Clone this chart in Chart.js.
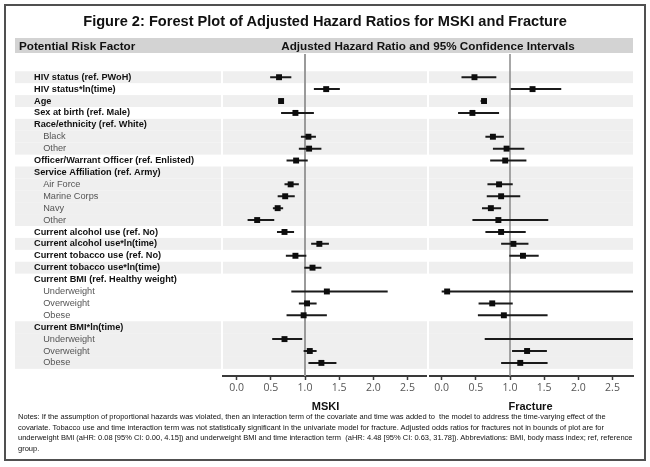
<!DOCTYPE html>
<html>
<head>
<meta charset="utf-8">
<script src="https://cdn.jsdelivr.net/npm/chart.js@4.4.1/dist/chart.umd.min.js"></script>
<style>
  html, body { margin: 0; padding: 0; background: #fff; }
  body { width: 650px; height: 467px; position: relative; overflow: hidden; }
  #frame { position: absolute; left: 4px; top: 4px; width: 642px; height: 457px; box-sizing: border-box; border: 2px solid #505050; pointer-events: none; }
  #title { position: absolute; left: 0; width: 650px; top: 13px; text-align: center; font: bold 14.6px "Liberation Sans", Arial, sans-serif; color: #111; }
  #hdr { position: absolute; left: 15px; top: 38px; width: 618px; height: 15px; background: #d3d3d3; }
  #hdr .l { position: absolute; left: 4px; top: 1px; font: bold 11.7px "Liberation Sans", Arial, sans-serif; color: #111; }
  #hdr .r { position: absolute; left: 255px; width: 316px; top: 1px; text-align: center; font: bold 11.7px "Liberation Sans", Arial, sans-serif; color: #111; white-space: nowrap; }
  #notes { position: absolute; left: 18px; top: 412px; width: 620px; font: 7.5px "Liberation Sans", Arial, sans-serif; line-height: 10.5px; color: #111; white-space: nowrap; }
  canvas { position: absolute; left: 0; top: 0; }
</style>
</head>
<body>
<canvas id="c" width="650" height="467"></canvas>
<div id="title">Figure 2: Forest Plot of Adjusted Hazard Ratios for MSKI and Fracture</div>
<div id="hdr"><span class="l">Potential Risk Factor</span><span class="r">Adjusted Hazard Ratio and 95% Confidence Intervals</span></div>
<div id="notes">Notes: If the assumption of proportional hazards was violated, then an interaction term of the covariate and time was added to&nbsp; the model to address the time-varying effect of the<br>covariate. Tobacco use and time interaction term was not statistically significant in the univariate model for fracture. Adjusted odds ratios for fractures not in bounds of plot are for<br>underweight BMI (aHR: 0.08 [95% CI: 0.00, 4.15]) and underweight BMI and time interaction term&nbsp; (aHR: 4.48 [95% CI: 0.63, 31.78]). Abbreviations: BMI, body mass index; ref, reference<br>group.</div>
<div id="frame"></div>
<script>
// ---- data ----
const factors = [
  "HIV status (ref. PWoH)", "HIV status*ln(time)", "Age", "Sex at birth (ref. Male)",
  "Race/ethnicity (ref. White)", "Black", "Other",
  "Officer/Warrant Officer (ref. Enlisted)",
  "Service Affiliation (ref. Army)", "Air Force", "Marine Corps", "Navy", "Other",
  "Current alcohol use (ref. No)", "Current alcohol use*ln(time)",
  "Current tobacco use (ref. No)", "Current tobacco use*ln(time)",
  "Current BMI (ref. Healthy weight)", "Underweight", "Overweight", "Obese",
  "Current BMI*ln(time)", "Underweight", "Overweight", "Obese"
];
const isSubLevel = [0,0,0,0, 0,1,1, 0, 0,1,1,1,1, 0,0, 0,0, 0,1,1,1, 0,1,1,1];
const shadedRows = [0,2,4,5,6,8,9,10,11,12,14,16,21,22,23,24];

const mskiHR = [0.62,1.31,0.65,0.86, null,1.05,1.06, 0.87, null,0.79,0.71,0.60,0.30, 0.70,1.21, 0.86,1.11, null,1.32,1.03,0.98, null,0.70,1.07,1.24];
const mskiLo = [0.49,1.13,0.63,0.65, null,0.94,0.91, 0.73, null,0.70,0.60,0.53,0.16, 0.59,1.09, 0.72,0.99, null,0.80,0.91,0.73, null,0.52,0.98,1.05];
const mskiHi = [0.80,1.51,0.67,1.13, null,1.16,1.24, 1.04, null,0.91,0.85,0.68,0.55, 0.84,1.35, 1.02,1.24, null,2.21,1.17,1.32, null,0.96,1.17,1.46];

const fracHR = [0.48,1.33,0.62,0.45, null,0.75,0.95, 0.93, null,0.84,0.87,0.72,0.83, 0.87,1.05, 1.19,null, null,0.08,0.74,0.91, null,4.48,1.25,1.15];
const fracLo = [0.29,1.01,0.57,0.24, null,0.64,0.75, 0.71, null,0.67,0.66,0.59,0.45, 0.64,0.87, 0.99,null, null,0.00,0.54,0.53, null,0.63,1.03,0.87];
const fracHi = [0.80,1.75,0.66,0.84, null,0.91,1.21, 1.24, null,1.04,1.15,0.87,1.56, 1.23,1.27, 1.42,null, null,4.15,1.04,1.55, null,31.78,1.54,1.55];

const xTicks = [0, 0.5, 1, 1.5, 2, 2.5];
const refValue = 1;
const panelTitles = ["MSKI", "Fracture"];

// ---- helpers ----
const Y_MIN = -1.95, Y_MAX = 25.1;
const X_MIN = -0.2, X_MAX = 2.8;

function pointData(hr) {
  const out = [];
  hr.forEach((v, i) => { if (v !== null) out.push({x: v, y: i}); });
  return out;
}
function ciData(lo, hi) {
  const out = [];
  lo.forEach((v, i) => {
    if (v !== null && hi[i] !== null) {
      out.push({x: v, y: i}, {x: hi[i], y: i}, {x: null, y: null});
    }
  });
  return out;
}
const refData = [{x: refValue, y: Y_MIN}, {x: refValue, y: Y_MAX}];
const isSub = ctx => !!(ctx && ctx.tick && isSubLevel[ctx.tick.value]);

const bandPlugin = {
  id: 'bands',
  beforeDraw(chart) {
    const ctx = chart.ctx;
    const y = chart.scales.y, x1 = chart.scales.x, x2 = chart.scales.x2;
    ctx.save();
    ctx.fillStyle = '#efefef';
    shadedRows.forEach(r => {
      const top = y.getPixelForValue(r - 0.5);
      const bot = y.getPixelForValue(r + 0.5);
      const h = bot - top;
      ctx.fillRect(15, top, x1.left - 2 - 15, h);
      ctx.fillRect(x1.left, top, x1.right - x1.left - 1, h);
      ctx.fillRect(x2.left + 1, top, x2.right - x2.left - 1, h);
    });
    ctx.restore();
  },
  afterDraw(chart) {
    const ctx = chart.ctx;
    const x1 = chart.scales.x;
    ctx.save();
    ctx.fillStyle = '#fff';
    ctx.fillRect(x1.right - 1, chart.chartArea.top, 2, chart.chartArea.bottom - chart.chartArea.top + 6);
    ctx.restore();
  }
};

function xScale(title) {
  return {
    type: 'linear', position: 'bottom', stack: 'panels', stackWeight: 1,
    min: X_MIN, max: X_MAX,
    border: {display: true, color: '#3a3a3a', width: 2},
    grid: {display: true, drawOnChartArea: false, drawTicks: true, tickLength: 4, tickWidth: 1.5, tickColor: '#3a3a3a'},
    afterBuildTicks: s => { s.ticks = xTicks.map(v => ({value: v})); },
    ticks: {
      callback: v => Number(v).toFixed(1),
      color: '#555', padding: 2,
      font: {family: '"Open Sans", "DejaVu Sans", sans-serif', size: 10.5}
    },
    title: {display: true, text: title, color: '#111', padding: {top: 5, bottom: 0},
      font: {family: '"Liberation Sans", Arial, sans-serif', size: 11, weight: 'bold'}},
    afterFit: s => { s.height = 38; }
  };
}

new Chart(document.getElementById('c'), {
  type: 'scatter',
  data: {
    datasets: [
      {label: 'ref1', data: refData, xAxisID: 'x', showLine: true, borderColor: '#9a9a9a', borderWidth: 2, pointRadius: 0, order: 5},
      {label: 'ref2', data: refData, xAxisID: 'x2', showLine: true, borderColor: '#8a8a8a', borderWidth: 1.5, pointRadius: 0, order: 5},
      {label: 'mski ci', data: ciData(mskiLo, mskiHi), xAxisID: 'x', showLine: true, spanGaps: false, borderColor: '#1a1a1a', borderWidth: 2, pointRadius: 0, order: 3},
      {label: 'frac ci', data: ciData(fracLo, fracHi), xAxisID: 'x2', showLine: true, spanGaps: false, borderColor: '#1a1a1a', borderWidth: 2, pointRadius: 0, order: 3},
      {label: 'mski hr', data: pointData(mskiHR), xAxisID: 'x', pointStyle: 'rect', pointRadius: 4.2, backgroundColor: '#0d0d0d', borderWidth: 0, order: 1},
      {label: 'frac hr', data: pointData(fracHR), xAxisID: 'x2', pointStyle: 'rect', pointRadius: 4.2, backgroundColor: '#0d0d0d', borderWidth: 0, order: 1}
    ]
  },
  plugins: [bandPlugin],
  options: {
    responsive: false,
    animation: false,
    devicePixelRatio: 1,
    layout: {padding: {left: 34, right: 17, top: 54, bottom: 53}},
    plugins: {legend: {display: false}, tooltip: {enabled: false}, title: {display: false}},
    scales: {
      x: xScale(panelTitles[0]),
      x2: xScale(panelTitles[1]),
      y: {
        type: 'linear', position: 'left', reverse: true,
        min: Y_MIN, max: Y_MAX,
        grid: {display: false}, border: {display: false},
        afterBuildTicks: s => { s.ticks = factors.map((_, i) => ({value: i})); },
        afterFit: s => { s.width = 189; },
        ticks: {
          autoSkip: false, crossAlign: 'far', padding: 0,
          callback: v => (isSubLevel[v] ? '\u2002\u2002' : '') + factors[v],
          color: ctx => isSub(ctx) ? '#555' : '#111',
          font: ctx => ({family: '"Liberation Sans", Arial, sans-serif', size: 9.2, weight: isSub(ctx) ? 'normal' : 'bold'})
        }
      }
    }
  }
});
</script>
</body>
</html>
